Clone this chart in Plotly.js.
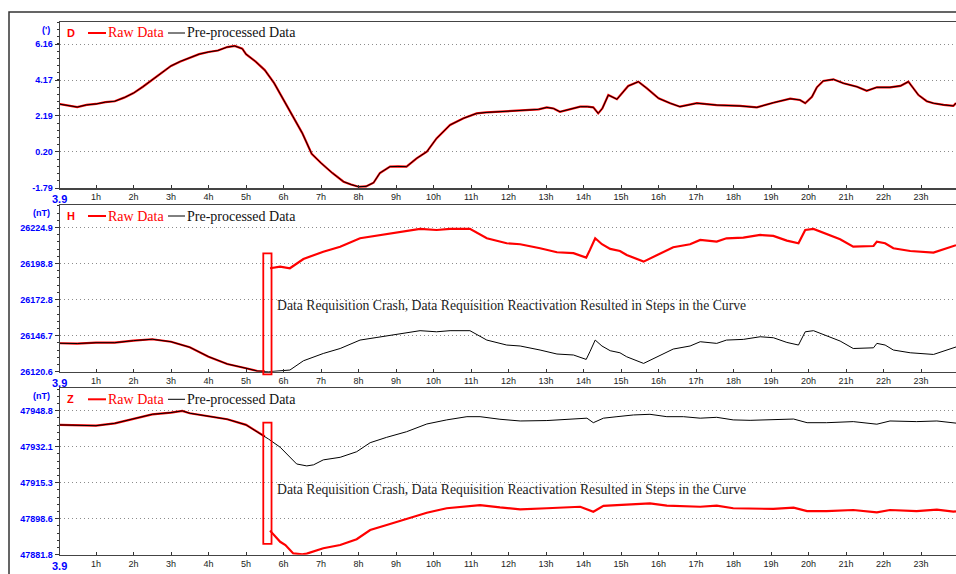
<!DOCTYPE html>
<html><head><meta charset="utf-8">
<script src="https://cdn.plot.ly/plotly-3.0.1.min.js"></script>
<style>html,body{margin:0;padding:0;background:#fff;}#chart{width:956px;height:574px;}</style>
</head><body><div id="chart"></div>
<script>
// ---------- data ----------
const hourTicks = [1,2,3,4,5,6,7,8,9,10,11,12,13,14,15,16,17,18,19,20,21,22,23];
const hourLabels = ['1h','2h','3h','4h','5h','6h','7h','8h','9h','10h','11h','12h','13h','14h','15h','16h','17h','18h','19h','20h','21h','22h','23h'];
const dateLabel = '3.9';

// D component (degrees) - raw and pre-processed coincide
const tD = [0,0.25,0.5,0.75,1,1.25,1.5,1.75,2,2.25,2.5,2.75,3,3.25,3.5,3.75,4,4.25,4.5,4.7,4.9,5.0,5.25,5.5,5.75,6,6.25,6.5,6.75,7,7.3,7.6,7.8,8.0,8.2,8.4,8.57,8.84,9.05,9.28,9.55,9.82,10.08,10.44,10.8,11.15,11.4,11.69,12.13,12.57,12.8,13.02,13.2,13.37,13.6,13.91,14.1,14.26,14.39,14.5,14.66,14.89,15.19,15.46,15.69,16.0,16.31,16.57,17.02,17.55,18.17,18.62,19.06,19.51,19.77,19.91,20.09,20.22,20.39,20.66,20.93,21.29,21.55,21.82,22.17,22.45,22.66,22.93,23.15,23.33,23.6,23.86,23.93];
const dRaw = [2.85,2.75,2.68,2.8,2.85,2.95,3.0,3.2,3.45,3.8,4.17,4.55,4.95,5.2,5.42,5.6,5.72,5.8,5.99,6.05,5.9,5.6,5.2,4.72,4.0,3.07,2.2,1.24,0.1,-0.41,-0.96,-1.44,-1.6,-1.72,-1.7,-1.5,-0.96,-0.61,-0.6,-0.61,-0.15,0.21,0.95,1.69,2.06,2.33,2.38,2.42,2.48,2.5,2.55,2.66,2.6,2.42,2.55,2.7,2.7,2.66,2.33,2.6,3.34,3.11,3.84,4.08,3.71,3.16,2.89,2.70,2.89,2.79,2.74,2.66,2.92,3.14,3.07,2.89,3.25,3.77,4.12,4.21,3.99,3.80,3.58,3.77,3.77,3.85,4.08,3.34,3.0,2.89,2.8,2.74,2.9];
const dPre = [2.85,2.75,2.68,2.8,2.85,2.95,3.0,3.2,3.45,3.8,4.17,4.55,4.95,5.2,5.42,5.6,5.72,5.8,5.99,6.05,5.9,5.6,5.2,4.72,4.0,3.07,2.2,1.24,0.1,-0.41,-0.96,-1.44,-1.6,-1.72,-1.7,-1.5,-0.96,-0.61,-0.6,-0.61,-0.15,0.21,0.95,1.69,2.06,2.33,2.38,2.42,2.48,2.5,2.55,2.66,2.6,2.42,2.55,2.7,2.7,2.66,2.33,2.6,3.34,3.11,3.84,4.08,3.71,3.16,2.89,2.70,2.89,2.79,2.74,2.66,2.92,3.14,3.07,2.89,3.25,3.77,4.12,4.21,3.99,3.80,3.58,3.77,3.77,3.85,4.08,3.34,3.0,2.89,2.8,2.74,2.9];

// H component (nT)
const tHpre = [0,0.5,1,1.5,2,2.5,3,3.5,4,4.5,5,5.3,5.6,5.91,6.17,6.53,7.06,7.51,8.04,8.49,9.02,9.64,10.08,10.44,10.97,11.42,11.95,12.31,12.84,13.29,13.73,14.07,14.17,14.31,14.49,14.71,14.97,15.15,15.6,15.95,16.39,16.84,17.11,17.55,17.81,18.26,18.71,19.06,19.42,19.73,19.91,20.13,20.48,20.84,21.19,21.73,21.82,22.04,22.26,22.71,23.33,23.6,23.86,23.93];
const hPre = [26141.2,26141.0,26141.6,26141.6,26143.1,26144.1,26142.3,26138.3,26131.5,26126.2,26123.1,26121.1,26120.6,26121.5,26121.8,26128.5,26133.8,26137.4,26143.5,26145.4,26147.6,26150.3,26149.5,26150.3,26150.3,26143.5,26139.9,26139.2,26136.3,26133.4,26132.7,26129.5,26135.1,26143.5,26139.2,26135.8,26134.3,26131.4,26126.6,26131.4,26137.0,26139.2,26142.3,26141.1,26143.5,26144.0,26145.9,26145.2,26141.8,26139.9,26149.5,26150.3,26146.6,26142.8,26137.4,26137.9,26141.1,26139.9,26136.3,26134.3,26133.1,26135.6,26137.9,26138.5];
const tHraw = [0,0.5,1,1.5,2,2.5,3,3.5,4,4.5,5,5.3,5.5,null,5.64,5.91,6.17,6.53,7.06,7.51,8.04,8.49,9.02,9.64,10.08,10.44,10.97,11.42,11.95,12.31,12.84,13.29,13.73,14.07,14.17,14.31,14.49,14.71,14.97,15.15,15.6,15.95,16.39,16.84,17.11,17.55,17.81,18.26,18.71,19.06,19.42,19.73,19.91,20.13,20.48,20.84,21.19,21.73,21.82,22.04,22.26,22.71,23.33,23.6,23.86,23.93];
const hRaw = [26141.2,26141.0,26141.6,26141.6,26143.1,26144.1,26142.3,26138.3,26131.5,26126.2,26123.1,26121.1,26120.8,null,26195.5,26196.7,26195.5,26202.2,26207.5,26211.1,26217.2,26219.1,26221.3,26224.0,26223.2,26224.0,26224.0,26217.2,26213.6,26212.9,26210.0,26207.1,26206.4,26203.2,26208.8,26217.2,26212.9,26209.5,26208.0,26205.1,26200.3,26205.1,26210.7,26212.9,26216.0,26214.8,26217.2,26217.7,26219.6,26218.9,26215.5,26213.6,26223.2,26224.0,26220.3,26216.5,26211.1,26211.6,26214.8,26213.6,26210.0,26208.0,26206.8,26209.3,26211.6,26212.2];

// Z component (nT)
const tZpre = [0,0.5,1,1.5,2,2.5,3,3.3,3.5,4,4.5,5,5.3,5.6,5.91,6.2,6.35,6.62,6.8,7.06,7.51,7.95,8.31,8.75,9.28,9.82,10.35,10.89,11.24,11.77,12.31,13.02,13.73,14.09,14.26,14.53,14.89,15.33,15.77,16.22,16.66,17.11,17.55,17.99,18.44,19.06,19.6,19.96,20.48,21.19,21.73,21.82,22.17,22.88,23.42,23.86,23.93];
const zPre = [47942.2,47942.0,47941.8,47942.9,47944.9,47947.1,47947.9,47948.7,47947.6,47946.3,47944.8,47942.2,47939.0,47935.6,47931.8,47926.7,47924.0,47923.1,47923.6,47925.9,47927.1,47929.7,47933.9,47936.4,47939.0,47942.6,47944.5,47946.0,47946.0,47944.8,47944.0,47944.2,47944.8,47945.3,47943.2,47945.3,47946.0,47946.8,47947.1,47946.0,47946.0,47945.3,47945.7,47944.5,47944.3,47944.8,47944.9,47943.2,47943.2,47943.7,47942.9,47942.5,47944.0,47943.7,47944.0,47942.9,47943.0];
const tZraw = [0,0.5,1,1.5,2,2.5,3,3.3,3.5,4,4.5,5,5.3,5.5,null,5.64,5.91,6.05,6.26,6.5,6.62,7.06,7.51,7.95,8.31,8.75,9.28,9.82,10.35,10.89,11.24,11.77,12.31,13.02,13.91,14.26,14.53,14.89,15.33,15.77,16.22,17.11,17.55,17.99,19.06,19.6,19.96,20.48,21.19,21.82,22.17,22.88,23.42,23.86,23.93];
const zRaw = [47942.2,47942.0,47941.8,47942.9,47944.9,47947.1,47947.9,47948.7,47947.6,47946.3,47944.8,47942.2,47939.0,47936.8,null,47893.0,47887.8,47886.3,47882.4,47882.0,47882.3,47884.8,47886.3,47889.0,47893.3,47895.6,47898.3,47901.3,47903.4,47904.5,47904.9,47903.8,47902.9,47903.4,47904.1,47901.8,47904.5,47904.9,47905.4,47905.7,47904.6,47904.1,47904.6,47903.4,47903.1,47903.7,47902.1,47902.1,47902.6,47901.5,47902.6,47902.1,47902.8,47901.8,47902.0];

// axis ticks
const dTickVals = [-1.79,0.20,2.19,4.17,6.16];
const dTickText = ['-1.79','0.20','2.19','4.17','6.16'];
const hTickVals = [26120.6,26146.7,26172.8,26198.8,26224.9];
const hTickText = ['26120.6','26146.7','26172.8','26198.8','26224.9'];
const zTickVals = [47881.8,47898.6,47915.3,47932.1,47948.8];
const zTickText = ['47881.8','47898.6','47915.3','47932.1','47948.8'];

const panelNames = ['D','H','Z'];
const unitNames = ["(')",'(nT)','(nT)'];
const rawName = 'Raw Data';
const preName = 'Pre-processed Data';
const noteText = 'Data Requisition Crash, Data Requisition Reactivation Resulted in Steps in the Curve';

// ---------- drawing ----------
const W = 956, H = 574;
const PX = v => v / W;
const PY = v => 1 - v / H;
const SANS = 'Liberation Sans, Arial, sans-serif';
const SERIF = 'Liberation Serif, Times New Roman, serif';
const BLUE = '#0000ff';

function pair(xa, ya, tr, r, tp, p) {
  return [
    {x: tr, y: r, xaxis: xa, yaxis: ya, type: 'scatter', mode: 'lines', connectgaps: false,
     line: {color: '#ff0000', width: 2.2}, showlegend: false, hoverinfo: 'skip'},
    {x: tp, y: p, xaxis: xa, yaxis: ya, type: 'scatter', mode: 'lines',
     line: {color: '#000000', width: 1}, showlegend: false, hoverinfo: 'skip'}
  ];
}
const traces = [].concat(
  pair('x', 'y', tD, dRaw, tD, dPre),
  pair('x2', 'y2', tHraw, hRaw, tHpre, hPre),
  pair('x3', 'y3', tZraw, zRaw, tZpre, zPre)
);

// panel pixel geometry: [top, bottom]
const panels = [[22, 188], [205, 371.7], [388.3, 554.7]];
const yRanges = [[-1.79, 7.375], [26120.6, 26241.3], [47881.8, 47959.2]];
const yTV = [dTickVals, hTickVals, zTickVals];
const yTT = [dTickText, hTickText, zTickText];
const minorStep = [0.398, 5.22, 3.35];
const xRange = [0.04, 23.93];

const layout = {
  width: W, height: H, margin: {l: 0, r: 0, t: 0, b: 0},
  paper_bgcolor: '#ffffff', plot_bgcolor: '#ffffff',
  showlegend: false, shapes: [], annotations: []
};
panels.forEach((pp, i) => {
  const sx = i === 0 ? '' : String(i + 1);
  layout['xaxis' + sx] = {
    domain: [PX(60), 1], range: xRange, anchor: 'y' + sx,
    tickmode: 'array', tickvals: hourTicks, ticktext: hourLabels,
    tickfont: {family: SANS, size: 9, color: '#222'},
    ticks: 'inside', ticklen: 3, tickcolor: '#333',
    showline: true, linecolor: '#444', linewidth: 1.5, mirror: true,
    showgrid: false, zeroline: false, fixedrange: true
  };
  if (i > 0) layout['xaxis' + sx].matches = 'x';
  layout['yaxis' + sx] = {
    domain: [PY(pp[1]), PY(pp[0])], range: yRanges[i], anchor: 'x' + sx,
    tickmode: 'array', tickvals: yTV[i], ticktext: yTT[i],
    tickfont: {family: SANS, size: 9, color: BLUE, weight: 'bold'},
    ticks: 'outside', ticklen: 4, tickcolor: '#333',
    minor: {tickmode: 'linear', tick0: yTV[i][0], dtick: minorStep[i], ticks: 'outside', ticklen: 2, tickcolor: '#333', showgrid: false},
    showline: true, linecolor: '#444', linewidth: 1.5,
    showgrid: true, gridcolor: '#8c8c8c', gridwidth: 1, griddash: '1px,3px',
    zeroline: false, fixedrange: true
  };
  const cy = pp[0] + 11;
  layout.annotations.push({xref: 'paper', yref: 'paper', x: PX(65), y: PY(cy), xanchor: 'left', yanchor: 'middle',
    text: panelNames[i], showarrow: false, font: {family: SANS, size: 11, color: '#ff0000', weight: 'bold'}});
  layout.shapes.push({type: 'line', xref: 'paper', yref: 'paper', x0: PX(88), x1: PX(106), y0: PY(cy), y1: PY(cy), line: {color: '#ff0000', width: 2}});
  layout.annotations.push({xref: 'paper', yref: 'paper', x: PX(106), y: PY(cy), xanchor: 'left', yanchor: 'middle',
    text: rawName, showarrow: false, font: {family: SERIF, size: 14, color: '#ff0000'}});
  layout.shapes.push({type: 'line', xref: 'paper', yref: 'paper', x0: PX(168), x1: PX(185), y0: PY(cy), y1: PY(cy), line: {color: '#000000', width: 1}});
  layout.annotations.push({xref: 'paper', yref: 'paper', x: PX(185), y: PY(cy), xanchor: 'left', yanchor: 'middle',
    text: preName, showarrow: false, font: {family: SERIF, size: 14, color: '#111'}});
  layout.annotations.push({xref: 'paper', yref: 'paper', x: PX(52), y: PY(pp[0] + 8), xanchor: 'right', yanchor: 'middle',
    text: unitNames[i], showarrow: false, font: {family: SANS, size: 9, color: BLUE, weight: 'bold'}});
  layout.annotations.push({xref: 'paper', yref: 'paper', x: PX(59), y: PY(pp[1] + 11), xanchor: 'center', yanchor: 'middle',
    text: dateLabel, showarrow: false, font: {family: SANS, size: 11, color: BLUE, weight: 'bold'}});
});

// outer frame
layout.shapes.push({type: 'rect', xref: 'paper', yref: 'paper', x0: PX(9), x1: 1.01, y0: -0.01, y1: PY(12), line: {color: '#333', width: 1.5}, layer: 'below'});
// step markers
layout.shapes.push({type: 'rect', xref: 'x2', yref: 'paper', x0: 5.46, x1: 5.68, y0: PY(374.3), y1: PY(253.3), line: {color: '#ff0000', width: 1.8}});
layout.shapes.push({type: 'rect', xref: 'x3', yref: 'y3', x0: 5.46, x1: 5.68, y0: 47886.8, y1: 47943.2, line: {color: '#ff0000', width: 1.8}});
// notes
layout.annotations.push({xref: 'x2', yref: 'paper', x: 5.77, y: PY(305), xanchor: 'left', yanchor: 'middle',
  text: noteText, showarrow: false, font: {family: SERIF, size: 13.7, color: '#222'}});
layout.annotations.push({xref: 'x3', yref: 'paper', x: 5.77, y: PY(489), xanchor: 'left', yanchor: 'middle',
  text: noteText, showarrow: false, font: {family: SERIF, size: 13.7, color: '#222'}});

Plotly.newPlot('chart', traces, layout, {staticPlot: true, displayModeBar: false});
</script>
</body></html>
